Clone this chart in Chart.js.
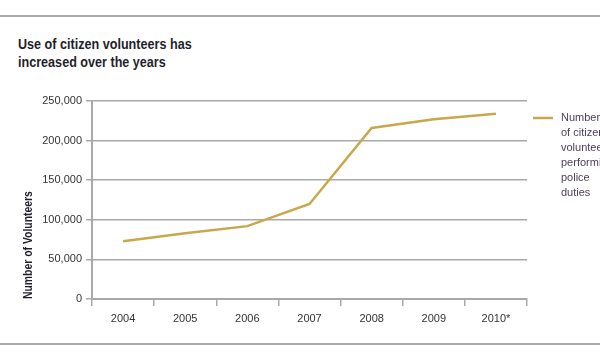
<!DOCTYPE html>
<html>
<head>
<meta charset="utf-8">
<script src="https://cdn.jsdelivr.net/npm/chart.js@4"></script>
<style>
  html, body { margin: 0; padding: 0; background: #fff; }
  #wrap { position: relative; width: 600px; height: 360px; overflow: hidden; }
  #c { position: absolute; left: 0; top: 0; }
  .rule { position: absolute; left: 0; width: 600px; height: 2px; background: #a9a9a9; }
  #title { position: absolute; left: 18px; top: 35px; font-family: 'Liberation Sans', Arial, sans-serif; font-weight: bold; font-size: 15px; line-height: 18px; color: #1f1f2b; transform: scaleX(0.84); transform-origin: 0 0; white-space: nowrap; }
</style>
</head>
<body>
<div id="wrap">
  <div class="rule" style="top:15px"></div>
  <div class="rule" style="top:343px"></div>
  <div id="title">Use of citizen volunteers has<br>increased over the years</div>
  <canvas id="c" width="600" height="360"></canvas>
</div>
<script>
const categories = ['2004', '2005', '2006', '2007', '2008', '2009', '2010*'];
const volunteers = [73000, 83000, 92000, 120000, 216000, 227000, 234000];
const seriesLabel = 'Number of citizen volunteers performing police duties';
const legendLines = ['Number', 'of citizen', 'volunteers', 'performing', 'police', 'duties'];
const yAxisTitle = 'Number of Volunteers';

const GOLD = '#c8a84b';
const GRID = '#a9a9a9';

const legendPlugin = {
  id: 'sideLegend',
  afterDraw(chart) {
    const ctx = chart.ctx;
    const x0 = chart.chartArea.right + 6;
    const y0 = chart.chartArea.top + 17;
    ctx.save();
    ctx.strokeStyle = GOLD;
    ctx.lineWidth = 2.5;
    ctx.beginPath();
    ctx.moveTo(x0, y0);
    ctx.lineTo(x0 + 20, y0);
    ctx.stroke();
    ctx.fillStyle = '#4e3d5c';
    ctx.font = '11px "Liberation Sans", Arial, sans-serif';
    ctx.textBaseline = 'middle';
    ctx.textAlign = 'left';
    legendLines.forEach((t, i) => ctx.fillText(t, x0 + 28, y0 + i * 15));
    ctx.restore();
  }
};

const yTitlePlugin = {
  id: 'yTitle',
  afterDraw(chart) {
    const ctx = chart.ctx;
    const area = chart.chartArea;
    ctx.save();
    ctx.translate(28, area.bottom);
    ctx.rotate(-Math.PI / 2);
    ctx.scale(0.8, 1);
    ctx.fillStyle = '#1f1f2b';
    ctx.font = 'bold 13px "Liberation Sans", Arial, sans-serif';
    ctx.textAlign = 'left';
    ctx.textBaseline = 'middle';
    ctx.fillText(yAxisTitle, 0, 0);
    ctx.restore();
  }
};

new Chart(document.getElementById('c'), {
  type: 'line',
  data: {
    labels: categories,
    datasets: [{
      label: seriesLabel,
      data: volunteers,
      borderColor: GOLD,
      borderWidth: 2.5,
      pointRadius: 0,
      tension: 0,
      fill: false
    }]
  },
  options: {
    responsive: false,
    animation: false,
    layout: { padding: { top: 101, right: 73, left: 0, bottom: 0 } },
    plugins: { legend: { display: false }, tooltip: { enabled: false }, title: { display: false } },
    scales: {
      x: {
        offset: true,
        grid: { offset: true, drawOnChartArea: false, color: GRID, lineWidth: 1.5, tickLength: 7 },
        border: { color: GRID, width: 2 },
        ticks: { color: '#333', font: { family: '"Liberation Sans", Arial, sans-serif', size: 11 }, padding: 6, maxRotation: 0 },
        afterFit(s) { s.height = 61; }
      },
      y: {
        min: 0, max: 250000,
        ticks: {
          stepSize: 50000,
          color: '#333',
          font: { family: '"Liberation Sans", Arial, sans-serif', size: 11 },
          padding: 4,
          callback: v => v.toLocaleString('en-US')
        },
        grid: { color: GRID, lineWidth: 1.5, tickLength: 6 },
        border: { color: GRID, width: 2 },
        title: { display: false },
        afterFit(s) { s.width = 92; }
      }
    }
  },
  plugins: [legendPlugin, yTitlePlugin]
});
</script>
</body>
</html>
